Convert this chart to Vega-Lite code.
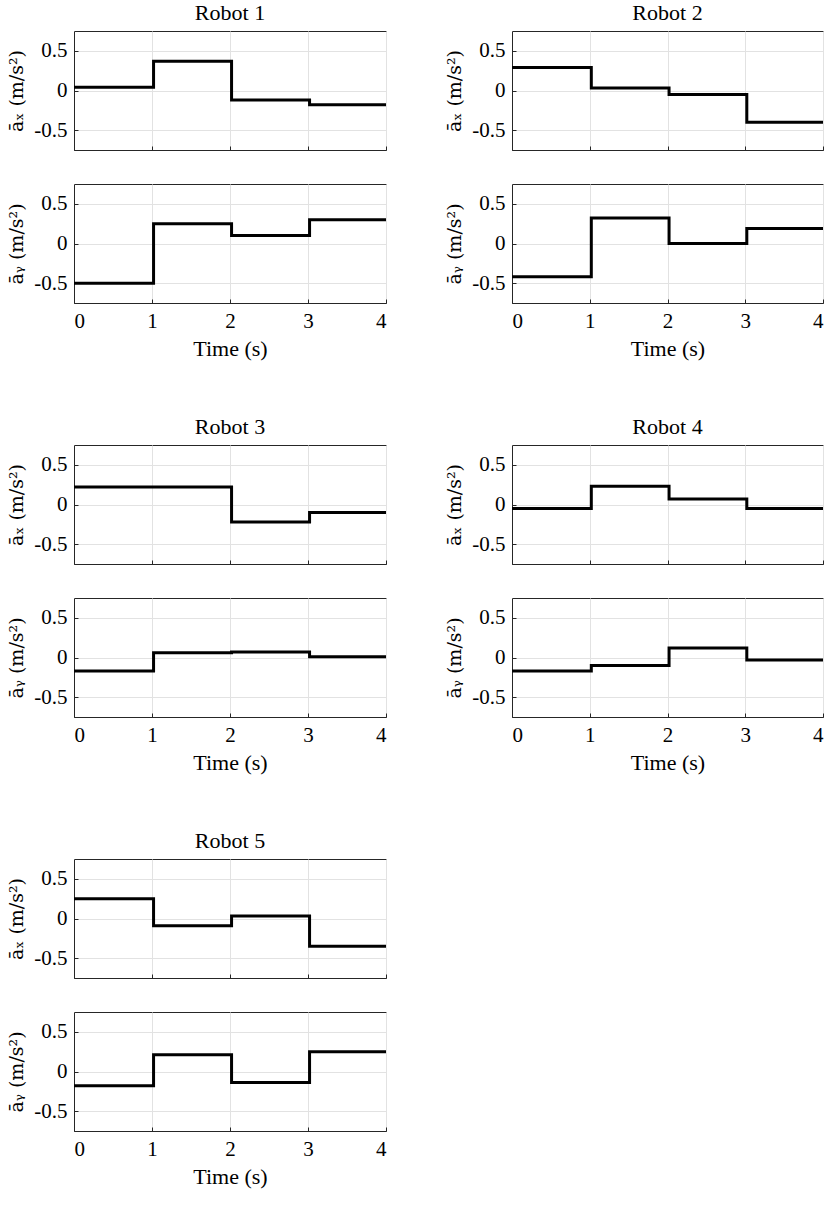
{
"$schema":"https://vega.github.io/schema/vega-lite/v6.json",
"background":"white",
"padding":{"left":7,"top":1,"right":3,"bottom":5},
"datasets":{"d":[
{"r":1,"c":"x","t":0,"v":0.04},{"r":1,"c":"x","t":1.02,"v":0.37},{"r":1,"c":"x","t":2.02,"v":-0.12},{"r":1,"c":"x","t":3.02,"v":-0.18},{"r":1,"c":"x","t":4,"v":-0.18},
{"r":1,"c":"y","t":0,"v":-0.5},{"r":1,"c":"y","t":1.02,"v":0.25},{"r":1,"c":"y","t":2.02,"v":0.1},{"r":1,"c":"y","t":3.02,"v":0.3},{"r":1,"c":"y","t":4,"v":0.3},
{"r":2,"c":"x","t":0,"v":0.29},{"r":2,"c":"x","t":1.02,"v":0.03},{"r":2,"c":"x","t":2.02,"v":-0.05},{"r":2,"c":"x","t":3.02,"v":-0.4},{"r":2,"c":"x","t":4,"v":-0.4},
{"r":2,"c":"y","t":0,"v":-0.42},{"r":2,"c":"y","t":1.02,"v":0.32},{"r":2,"c":"y","t":2.02,"v":0},{"r":2,"c":"y","t":3.02,"v":0.19},{"r":2,"c":"y","t":4,"v":0.19},
{"r":3,"c":"x","t":0,"v":0.22},{"r":3,"c":"x","t":1.02,"v":0.22},{"r":3,"c":"x","t":2.02,"v":-0.22},{"r":3,"c":"x","t":3.02,"v":-0.1},{"r":3,"c":"x","t":4,"v":-0.1},
{"r":3,"c":"y","t":0,"v":-0.17},{"r":3,"c":"y","t":1.02,"v":0.06},{"r":3,"c":"y","t":2.02,"v":0.07},{"r":3,"c":"y","t":3.02,"v":0.01},{"r":3,"c":"y","t":4,"v":0.01},
{"r":4,"c":"x","t":0,"v":-0.05},{"r":4,"c":"x","t":1.02,"v":0.23},{"r":4,"c":"x","t":2.02,"v":0.07},{"r":4,"c":"x","t":3.02,"v":-0.05},{"r":4,"c":"x","t":4,"v":-0.05},
{"r":4,"c":"y","t":0,"v":-0.17},{"r":4,"c":"y","t":1.02,"v":-0.1},{"r":4,"c":"y","t":2.02,"v":0.12},{"r":4,"c":"y","t":3.02,"v":-0.03},{"r":4,"c":"y","t":4,"v":-0.03},
{"r":5,"c":"x","t":0,"v":0.25},{"r":5,"c":"x","t":1.02,"v":-0.09},{"r":5,"c":"x","t":2.02,"v":0.03},{"r":5,"c":"x","t":3.02,"v":-0.35},{"r":5,"c":"x","t":4,"v":-0.35},
{"r":5,"c":"y","t":0,"v":-0.18},{"r":5,"c":"y","t":1.02,"v":0.21},{"r":5,"c":"y","t":2.02,"v":-0.14},{"r":5,"c":"y","t":3.02,"v":0.25},{"r":5,"c":"y","t":4,"v":0.25}
]},
"config":{
"font":"Liberation Serif",
"view":{"stroke":"#262626","strokeWidth":1},
"line":{"color":"black","strokeWidth":3,"interpolate":"step-after"},
"style":{"guide-label":{"font":"Liberation Serif","fontSize":21,"fill":"black"},"guide-title":{"font":"Liberation Serif","fontWeight":"normal","fill":"black"}},
"axis":{"labelFont":"Liberation Serif","labelFontSize":21,"labelColor":"black","titleFont":"Liberation Serif","titleFontWeight":"normal","titleColor":"black","gridColor":"#e2e2e2","domain":true,"domainColor":"#262626","domainWidth":1,"tickColor":"#262626","tickSize":-4,"labelPadding":11},
"axisY":{"titleFont":"DejaVu Serif","titleFontSize":19,"titlePadding":7},
"axisX":{"titleFontSize":22,"titlePadding":7},
"title":{"font":"Liberation Serif","fontSize":22,"fontWeight":"normal","color":"black","offset":6}
},
"spacing":55,
"vconcat":[
{"spacing":52,"hconcat":[
{"spacing":32,"vconcat":[
{"title":"Robot 1","width":312,"height":119,"data":{"name":"d"},"transform":[{"filter":"datum.r==1 && datum.c=='x'"}],"mark":"line","encoding":{"x":{"field":"t","type":"quantitative","scale":{"domain":[0,4]},"axis":{"labels":false,"title":null,"values":[0,1,2,3,4]}},"y":{"field":"v","type":"quantitative","scale":{"domain":[-0.75,0.75]},"axis":{"title":"āₓ   (m/s²)","values":[-0.5,0,0.5],"labelExpr":"toString(datum.value)"}}}},
{"width":312,"height":119,"data":{"name":"d"},"transform":[{"filter":"datum.r==1 && datum.c=='y'"}],"mark":"line","encoding":{"x":{"field":"t","type":"quantitative","scale":{"domain":[0,4]},"axis":{"title":"Time (s)","values":[0,1,2,3,4]}},"y":{"field":"v","type":"quantitative","scale":{"domain":[-0.75,0.75]},"axis":{"title":"āᵧ   (m/s²)","values":[-0.5,0,0.5],"labelExpr":"toString(datum.value)"}}}}
]},
{"spacing":32,"vconcat":[
{"title":"Robot 2","width":311,"height":119,"data":{"name":"d"},"transform":[{"filter":"datum.r==2 && datum.c=='x'"}],"mark":"line","encoding":{"x":{"field":"t","type":"quantitative","scale":{"domain":[0,4]},"axis":{"labels":false,"title":null,"values":[0,1,2,3,4]}},"y":{"field":"v","type":"quantitative","scale":{"domain":[-0.75,0.75]},"axis":{"title":"āₓ   (m/s²)","values":[-0.5,0,0.5],"labelExpr":"toString(datum.value)"}}}},
{"width":311,"height":119,"data":{"name":"d"},"transform":[{"filter":"datum.r==2 && datum.c=='y'"}],"mark":"line","encoding":{"x":{"field":"t","type":"quantitative","scale":{"domain":[0,4]},"axis":{"title":"Time (s)","values":[0,1,2,3,4]}},"y":{"field":"v","type":"quantitative","scale":{"domain":[-0.75,0.75]},"axis":{"title":"āᵧ   (m/s²)","values":[-0.5,0,0.5],"labelExpr":"toString(datum.value)"}}}}
]}
]},
{"spacing":52,"hconcat":[
{"spacing":32,"vconcat":[
{"title":"Robot 3","width":312,"height":119,"data":{"name":"d"},"transform":[{"filter":"datum.r==3 && datum.c=='x'"}],"mark":"line","encoding":{"x":{"field":"t","type":"quantitative","scale":{"domain":[0,4]},"axis":{"labels":false,"title":null,"values":[0,1,2,3,4]}},"y":{"field":"v","type":"quantitative","scale":{"domain":[-0.75,0.75]},"axis":{"title":"āₓ   (m/s²)","values":[-0.5,0,0.5],"labelExpr":"toString(datum.value)"}}}},
{"width":312,"height":119,"data":{"name":"d"},"transform":[{"filter":"datum.r==3 && datum.c=='y'"}],"mark":"line","encoding":{"x":{"field":"t","type":"quantitative","scale":{"domain":[0,4]},"axis":{"title":"Time (s)","values":[0,1,2,3,4]}},"y":{"field":"v","type":"quantitative","scale":{"domain":[-0.75,0.75]},"axis":{"title":"āᵧ   (m/s²)","values":[-0.5,0,0.5],"labelExpr":"toString(datum.value)"}}}}
]},
{"spacing":32,"vconcat":[
{"title":"Robot 4","width":311,"height":119,"data":{"name":"d"},"transform":[{"filter":"datum.r==4 && datum.c=='x'"}],"mark":"line","encoding":{"x":{"field":"t","type":"quantitative","scale":{"domain":[0,4]},"axis":{"labels":false,"title":null,"values":[0,1,2,3,4]}},"y":{"field":"v","type":"quantitative","scale":{"domain":[-0.75,0.75]},"axis":{"title":"āₓ   (m/s²)","values":[-0.5,0,0.5],"labelExpr":"toString(datum.value)"}}}},
{"width":311,"height":119,"data":{"name":"d"},"transform":[{"filter":"datum.r==4 && datum.c=='y'"}],"mark":"line","encoding":{"x":{"field":"t","type":"quantitative","scale":{"domain":[0,4]},"axis":{"title":"Time (s)","values":[0,1,2,3,4]}},"y":{"field":"v","type":"quantitative","scale":{"domain":[-0.75,0.75]},"axis":{"title":"āᵧ   (m/s²)","values":[-0.5,0,0.5],"labelExpr":"toString(datum.value)"}}}}
]}
]},
{"spacing":32,"vconcat":[
{"title":"Robot 5","width":312,"height":119,"data":{"name":"d"},"transform":[{"filter":"datum.r==5 && datum.c=='x'"}],"mark":"line","encoding":{"x":{"field":"t","type":"quantitative","scale":{"domain":[0,4]},"axis":{"labels":false,"title":null,"values":[0,1,2,3,4]}},"y":{"field":"v","type":"quantitative","scale":{"domain":[-0.75,0.75]},"axis":{"title":"āₓ   (m/s²)","values":[-0.5,0,0.5],"labelExpr":"toString(datum.value)"}}}},
{"width":312,"height":119,"data":{"name":"d"},"transform":[{"filter":"datum.r==5 && datum.c=='y'"}],"mark":"line","encoding":{"x":{"field":"t","type":"quantitative","scale":{"domain":[0,4]},"axis":{"title":"Time (s)","values":[0,1,2,3,4]}},"y":{"field":"v","type":"quantitative","scale":{"domain":[-0.75,0.75]},"axis":{"title":"āᵧ   (m/s²)","values":[-0.5,0,0.5],"labelExpr":"toString(datum.value)"}}}}
]}
]
}
